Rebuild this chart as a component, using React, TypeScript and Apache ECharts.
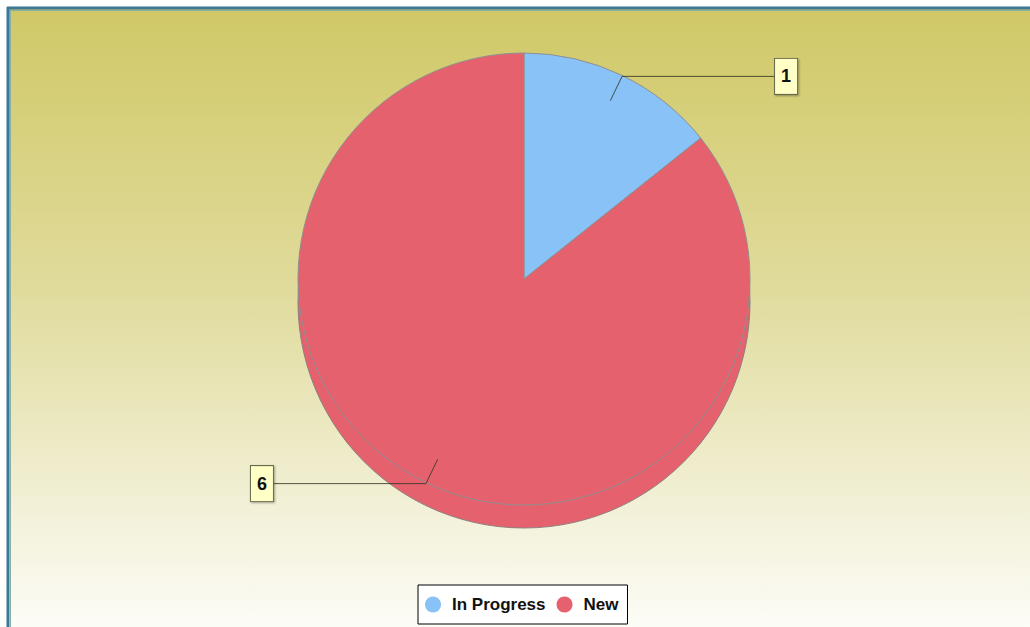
import React, { useEffect, useRef } from "react";
import * as echarts from "echarts";

const categories = ["In Progress", "New"];
const values = [1, 6];
const colors = ["#88c2f7", "#e6616e"];

export default function App() {
  const ref = useRef<HTMLDivElement>(null);
  useEffect(() => {
    if (!ref.current) return;
    const chart = echarts.init(ref.current, undefined, { renderer: "svg" });
    const data = categories.map((name, i) => ({
      name,
      value: values[i],
      itemStyle: { color: colors[i] },
    }));
    const labelData = categories.map((name, i) => ({
      name,
      value: values[i],
      itemStyle: { color: "rgba(0,0,0,0)", borderWidth: 0 },
    }));
    chart.setOption({
      animation: false,
      graphic: [
        { type: "rect", silent: true, z: -10, shape: { x: 0, y: 0, width: 1030, height: 627 }, style: { fill: "#ffffff" } },
        {
          type: "rect",
          silent: true,
          z: -9,
          shape: { x: 7, y: 7, width: 1030, height: 627 },
          style: {
            fill: new echarts.graphic.LinearGradient(0, 0, 0, 1, [
              { offset: 0, color: "#d0c866" },
              { offset: 0.45, color: "#e0db9c" },
              { offset: 1, color: "#fdfdf9" },
            ]),
          },
        },
        { type: "line", silent: true, z: -8, shape: { x1: 7, y1: 8, x2: 1030, y2: 8 }, style: { stroke: "#3a7896", lineWidth: 3 } },
        { type: "line", silent: true, z: -8, shape: { x1: 8, y1: 7, x2: 8, y2: 627 }, style: { stroke: "#3a7896", lineWidth: 3 } },
        { type: "line", silent: true, z: -8, shape: { x1: 10, y1: 10.5, x2: 1030, y2: 10.5 }, style: { stroke: "#86b0a8", lineWidth: 1 } },
        { type: "line", silent: true, z: -8, shape: { x1: 10.5, y1: 10, x2: 10.5, y2: 627 }, style: { stroke: "#86b0a8", lineWidth: 1 } },
      ],
      legend: {
        data: categories,
        left: 418,
        bottom: 3,
        orient: "horizontal",
        icon: "circle",
        itemWidth: 16,
        itemHeight: 16,
        itemGap: 11,
        padding: [11, 9, 11, 7],
        backgroundColor: "#ffffff",
        borderColor: "#000000",
        borderWidth: 1,
        borderRadius: 0,
        itemStyle: { borderWidth: 0 },
        textStyle: {
          color: "#111",
          fontSize: 17,
          fontWeight: "bold",
          fontFamily: "Liberation Sans, Arial, sans-serif",
          padding: [0, 0, 0, 6],
        },
        selectedMode: false,
      },
      series: [
        {
          type: "pie",
          name: "depth",
          z: 2,
          center: [524, 302],
          radius: [0, 226],
          startAngle: 90,
          clockwise: true,
          silent: true,
          label: { show: false },
          labelLine: { show: false },
          itemStyle: { borderColor: "#8f7f7f", borderWidth: 1 },
          emphasis: { disabled: true },
          data,
        },
        {
          type: "pie",
          name: "status",
          z: 3,
          center: [524, 279],
          radius: [0, 226],
          startAngle: 90,
          clockwise: true,
          silent: true,
          label: { show: false },
          labelLine: { show: false },
          itemStyle: { borderColor: "#8f8f8f", borderWidth: 1 },
          emphasis: { disabled: true },
          data,
        },
        {
          type: "pie",
          name: "labels",
          z: 6,
          center: [524, 280],
          radius: [0, 199],
          startAngle: 90,
          clockwise: true,
          silent: true,
          avoidLabelOverlap: false,
          emphasis: { disabled: true },
          label: {
            show: true,
            position: "outside",
            formatter: "{c}",
            distanceToLabelLine: 0,
            color: "#111",
            fontSize: 18,
            fontWeight: "bold",
            fontFamily: "Liberation Sans, Arial, sans-serif",
            lineHeight: 18,
            backgroundColor: "#ffffc6",
            borderColor: "#6a6a50",
            borderWidth: 1,
            padding: [9, 6, 8, 6],
            shadowColor: "rgba(0,0,0,0.35)",
            shadowBlur: 2,
            shadowOffsetX: 1,
            shadowOffsetY: 1,
          },
          labelLine: {
            show: true,
            length: 27,
            length2: 153,
            lineStyle: { color: "rgba(55,55,35,0.85)", width: 1 },
          },
          data: labelData,
        },
      ],
    });
    return () => chart.dispose();
  }, []);
  return (
    <div
      ref={ref}
      style={{ position: "absolute", left: 0, top: 0, width: 1030, height: 627 }}
    />
  );
}
